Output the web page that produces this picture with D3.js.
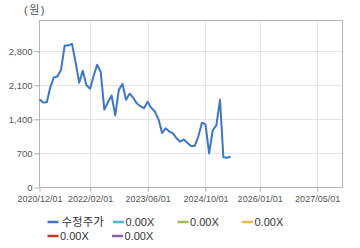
<!DOCTYPE html>
<html>
<head>
<meta charset="utf-8">
<script src="https://cdn.jsdelivr.net/npm/d3@7"></script>
<style>
  body { margin: 0; background: #fff; }
  svg text { font-family: "Liberation Sans", Arial, "Noto Sans CJK KR", sans-serif; }
</style>
</head>
<body>
<div class="chart"></div>
<script>
// monthly adjusted close, 2020/12 .. 2025/05
const startMonth = "2020-12-01";
const prices = [
  1810, 1745, 1750, 2050, 2260, 2280, 2420, 2910, 2920, 2950,
  2580, 2150, 2400, 2100, 2030, 2280, 2520, 2380, 1600, 1750,
  1890, 1480, 2000, 2130, 1800, 1930, 1840, 1730, 1670, 1630,
  1760, 1640, 1560, 1400, 1120, 1215, 1150, 1110, 1010, 940,
  985, 920, 852, 852, 1040, 1330, 1297, 700, 1170, 1280,
  1800, 620, 610, 632
];
const yTicks = [0, 700, 1400, 2100, 2800];
const xTicks = ["2020-12-01", "2022-02-01", "2023-06-01", "2024-10-01", "2026-01-01", "2027-05-01"];
const legendNames = ["수정주가", "0.00X", "0.00X", "0.00X", "0.00X", "0.00X"];
const legendColors = ["#3d77c6", "#4bb8c8", "#9bbb59", "#f0b550", "#c0392b", "#8e5ea2"];

const width = 360, height = 248;
const plot = {left: 39.5, right: 342.5, top: 20.5, bottom: 187.5};

const parse = d3.timeParse("%Y-%m-%d");
const fmt = d3.timeFormat("%Y/%m/%d");
const t0 = parse(startMonth);
const data = prices.map((v, i) => ({date: d3.timeMonth.offset(t0, i), value: v}));

const svg = d3.select(".chart").append("svg")
  .attr("width", width)
  .attr("height", height);

const x = d3.scaleTime()
  .domain([parse("2020-12-01"), parse("2027-12-01")])
  .range([plot.left, plot.right]);

const y = d3.scaleLinear()
  .domain([0, 3430])
  .range([plot.bottom, plot.top]);

// grid
svg.append("g")
  .selectAll("line")
  .data(yTicks.slice(1))
  .join("line")
  .attr("x1", plot.left - 5).attr("x2", plot.right)
  .attr("y1", d => Math.round(y(d)) + 0.5).attr("y2", d => Math.round(y(d)) + 0.5)
  .attr("stroke", "#e4e4e4");

svg.append("g")
  .selectAll("line")
  .data(xTicks.slice(1))
  .join("line")
  .attr("x1", d => Math.round(x(parse(d))) + 0.5).attr("x2", d => Math.round(x(parse(d))) + 0.5)
  .attr("y1", plot.top).attr("y2", plot.bottom + 4)
  .attr("stroke", "#e4e4e4");

// frame
svg.append("rect")
  .attr("x", plot.left).attr("y", plot.top)
  .attr("width", plot.right - plot.left).attr("height", plot.bottom - plot.top)
  .attr("fill", "none")
  .attr("stroke", "#b4b4b4");

// axes
const yAxis = svg.append("g")
  .attr("transform", `translate(${plot.left},0)`)
  .call(d3.axisLeft(y).tickValues(yTicks).tickSize(5).tickPadding(2).tickFormat(d3.format(",")));
const xAxis = svg.append("g")
  .attr("transform", `translate(0,${plot.bottom})`)
  .call(d3.axisBottom(x).tickValues(xTicks.map(parse)).tickSize(4).tickPadding(4).tickFormat(fmt));

[yAxis, xAxis].forEach(g => {
  g.select(".domain").remove();
  g.selectAll(".tick line").attr("stroke", "#b4b4b4");
  g.selectAll("text").attr("fill", "#555").attr("font-size", 9);
});
yAxis.selectAll("text").attr("font-size", 9.5);

svg.append("text")
  .attr("x", 24).attr("y", 14)
  .attr("font-size", 11)
  .attr("letter-spacing", 1.5)
  .attr("fill", "#555")
  .text("(원)");

// price line
svg.append("path")
  .datum(data)
  .attr("fill", "none")
  .attr("stroke", legendColors[0])
  .attr("stroke-width", 2)
  .attr("stroke-linejoin", "round")
  .attr("d", d3.line().x(d => x(d.date)).y(d => y(d.value)));

// legend
const legPos = [[47.5, 222], [113, 222], [177.5, 222], [242, 222], [47.5, 236], [112, 236]];
const leg = svg.append("g")
  .selectAll("g")
  .data(legendNames)
  .join("g")
  .attr("transform", (d, i) => `translate(${legPos[i][0]},${legPos[i][1]})`);

leg.append("line")
  .attr("x1", 0).attr("x2", 11)
  .attr("stroke", (d, i) => legendColors[i])
  .attr("stroke-width", 2.5);

leg.append("text")
  .attr("x", (d, i) => i == 0 ? 14 : 12.5)
  .attr("y", 4)
  .attr("font-size", (d, i) => i == 0 ? 11.5 : 11)
  .attr("fill", "#333")
  .text(d => d);
</script>
</body>
</html>
